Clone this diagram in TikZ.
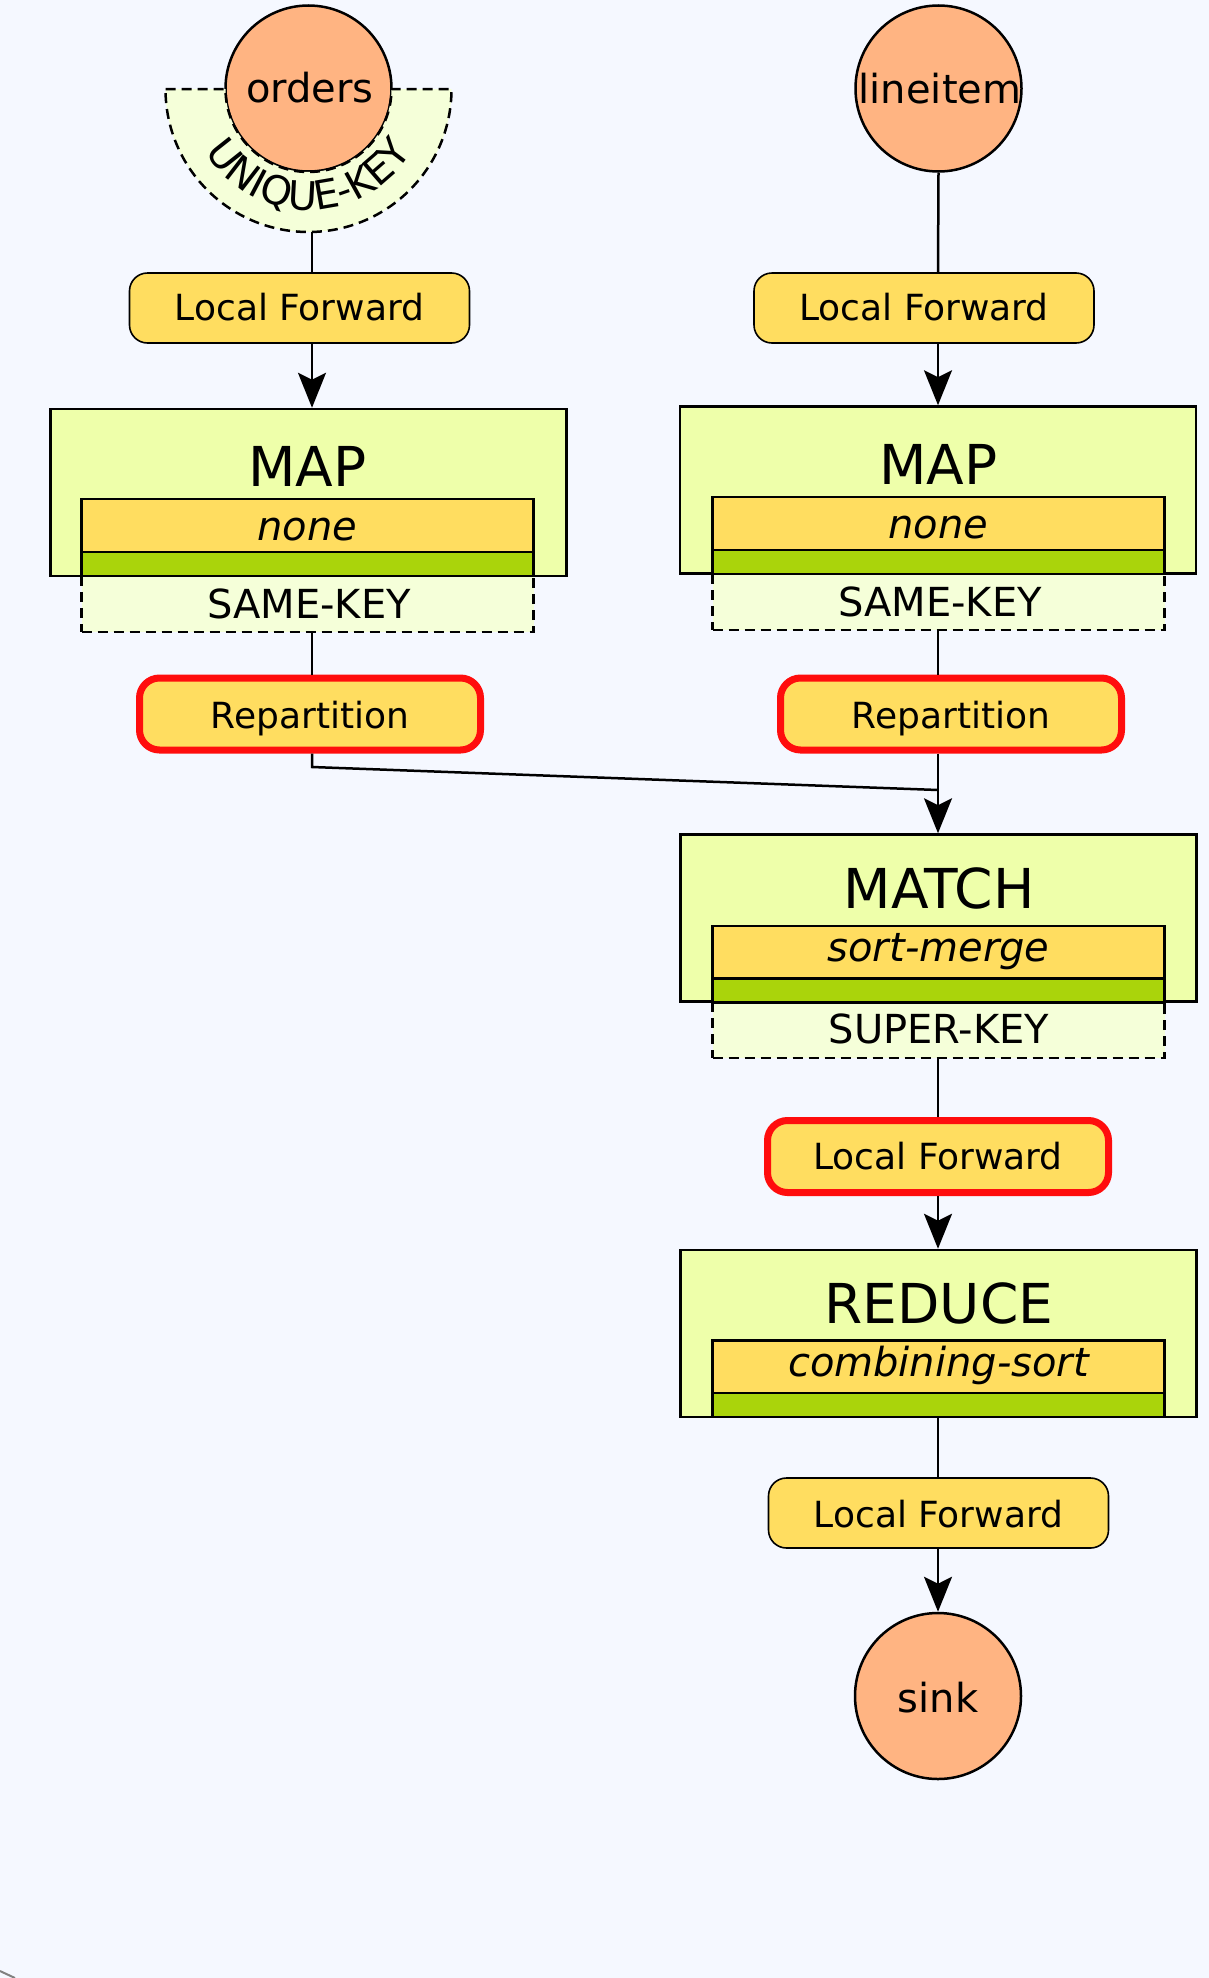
\documentclass[tikz,border=0pt]{standalone}
\usepackage{fontspec}
\setmainfont{DejaVu Sans}
\usetikzlibrary{arrows.meta,decorations.text}
\definecolor{bgc}{HTML}{F5F8FF}
\definecolor{peach}{HTML}{FFB482}
\definecolor{opfill}{HTML}{EEFFAA}
\definecolor{yel}{HTML}{FFDD60}
\definecolor{grn}{HTML}{AAD40B}
\definecolor{keyfill}{HTML}{F5FFD9}
\definecolor{redc}{HTML}{FF0D0D}
\begin{document}
\begin{tikzpicture}[x=1pt,y=1pt,
  opbox/.style={draw=black, line width=2.5pt, fill=opfill, minimum width=516pt, minimum height=167pt, inner sep=0pt},
  stratbox/.style={draw=black, line width=2.5pt, fill=yel, minimum width=452pt, minimum height=53pt, inner sep=0pt},
  grnbar/.style={draw=black, line width=2.5pt, fill=grn, minimum width=452pt, minimum height=24pt, inner sep=0pt},
  keybox/.style={draw=black, dash pattern=on 10pt off 6pt, line width=2.5pt, fill=keyfill, minimum width=452pt, minimum height=56pt, inner sep=0pt},
  fwdbox/.style={draw=black, line width=1.6pt, fill=yel, rounded corners=18pt, minimum width=340pt, minimum height=70pt, inner sep=0pt},
  redbox/.style={fwdbox, draw=redc, line width=7pt, rounded corners=20pt, minimum width=341pt, minimum height=72pt},
  src/.style={circle, draw=black, line width=2.5pt, fill=peach, minimum size=166pt, inner sep=0pt},
  bigtxt/.style={font=\fontsize{55}{60}\selectfont, anchor=base, inner sep=0pt},
  midtxt/.style={font=\fontsize{40}{48}\selectfont, anchor=base, inner sep=0pt},
  ittxt/.style={font=\fontsize{40}{48}\selectfont\itshape, anchor=base, inner sep=0pt},
  smalltxt/.style={font=\fontsize{36}{42}\selectfont, anchor=base, inner sep=0pt},
  edge/.style={draw=black, line width=2.5pt},
  arr/.style={edge, -{Stealth[length=35pt,width=28pt,inset=7pt]}}
]
\useasboundingbox[fill=bgc] (0,0) rectangle (1209,-1978);
\draw[gray, line width=2pt] (0,-1971) -- (15,-1978);

% sources
\node[src] (ord) at (308.5,-88.5) {};
\draw[dash pattern=on 10pt off 6pt, line width=2.5pt, fill=keyfill]
  (165.5,-89) -- (225.5,-89) arc[start angle=180, end angle=360, radius=83pt]
  -- (451.5,-89) arc[start angle=0, end angle=-180, radius=143pt] -- cycle;
\path[decorate, decoration={text along path, text align=center,
  text={|\fontsize{40}{48}\selectfont|UNIQUE-KEY}}]
  (308.5,-89) ++(180:121pt) arc[start angle=180, end angle=360, radius=121pt];
\node[midtxt] (ordt) at (310,-102) {orders};
\node[src] (lin) at (938.5,-88.5) {};
\node[midtxt] (lint) at (940,-103) {lineitem};

% local forwards (top)
\node[fwdbox] (lf1) at (299.5,-308) {};
\node[smalltxt] (lf1t) at (299.5,-320) {Local Forward};
\node[fwdbox] (lf2) at (924,-308) {};
\node[smalltxt] (lf2t) at (924,-320) {Local Forward};

% MAP left
\node[keybox] (key1) at (307.5,-604) {};
\node[opbox] (map1) at (308.5,-492.5) {};
\node[stratbox] (in1) at (307.5,-525.5) {};
\node[grnbar] (gr1) at (307.5,-564) {};
\node[bigtxt] (map1t) at (307.5,-486) {MAP};
\node[ittxt] (in1t) at (307.5,-540) {none};
\node[midtxt] (key1t) at (309,-618) {SAME-KEY};

% MAP right
\node[keybox] (key2) at (938.5,-602) {};
\node[opbox] (map2) at (938,-490) {};
\node[stratbox] (in2) at (938.5,-523.5) {};
\node[grnbar] (gr2) at (938.5,-562) {};
\node[bigtxt] (map2t) at (938.5,-484) {MAP};
\node[ittxt] (in2t) at (938.5,-538) {none};
\node[midtxt] (key2t) at (940,-616) {SAME-KEY};

% repartitions
\node[redbox] (rep1) at (310,-714) {};
\node[smalltxt] (rep1t) at (310,-728) {Repartition};
\node[redbox] (rep2) at (951,-714) {};
\node[smalltxt] (rep2t) at (951,-728) {Repartition};

% MATCH
\node[keybox] (key3) at (938.5,-1030) {};
\node[opbox] (match) at (938.5,-918) {};
\node[stratbox] (in3) at (938.5,-952.5) {};
\node[grnbar] (gr3) at (938.5,-990.5) {};
\node[bigtxt] (matcht) at (939,-908) {MATCH};
\node[ittxt] (in3t) at (938.5,-961) {sort-merge};
\node[midtxt] (key3t) at (939,-1043) {SUPER-KEY};

% local forward red
\node[redbox] (lf3) at (938,-1156.5) {};
\node[smalltxt] (lf3t) at (938,-1169) {Local Forward};

% REDUCE
\node[opbox] (reduce) at (938.5,-1333.5) {};
\node[stratbox] (in4) at (938.5,-1367) {};
\node[grnbar] (gr4) at (938.5,-1405) {};
\node[bigtxt] (reducet) at (939,-1323) {REDUCE};
\node[ittxt] (in4t) at (938.5,-1376) {combining-sort};

% local forward bottom
\node[fwdbox] (lf4) at (938.5,-1513) {};
\node[smalltxt] (lf4t) at (938.5,-1527) {Local Forward};

% sink
\node[src] (sink) at (938,-1696) {};
\node[midtxt] (sinkt) at (938,-1712) {sink};

% connectors
\coordinate (ukb) at (312,-232);
\coordinate (cR) at (938,0);
\coordinate (bend) at (312,-767);
\coordinate (jn) at (938,-790);
\draw[edge] (ukb) -- (ukb |- lf1.north);
\draw[arr] (ukb |- lf1.south) -- (ukb |- map1.north);
\draw[edge] (ukb |- key1.south) -- (ukb |- rep1.north);
\draw[edge] (ukb |- rep1.south) -- (bend) -- (jn);
\draw[edge] (lin.south) -- (cR |- lf2.north);
\draw[arr] (cR |- lf2.south) -- (cR |- map2.north);
\draw[edge] (cR |- key2.south) -- (cR |- rep2.north);
\draw[arr] (cR |- rep2.south) -- (cR |- match.north);
\draw[edge] (cR |- key3.south) -- (cR |- lf3.north);
\draw[arr] (cR |- lf3.south) -- (cR |- reduce.north);
\draw[edge] (cR |- reduce.south) -- (cR |- lf4.north);
\draw[arr] (cR |- lf4.south) -- (sink.north);
\end{tikzpicture}
\end{document}
